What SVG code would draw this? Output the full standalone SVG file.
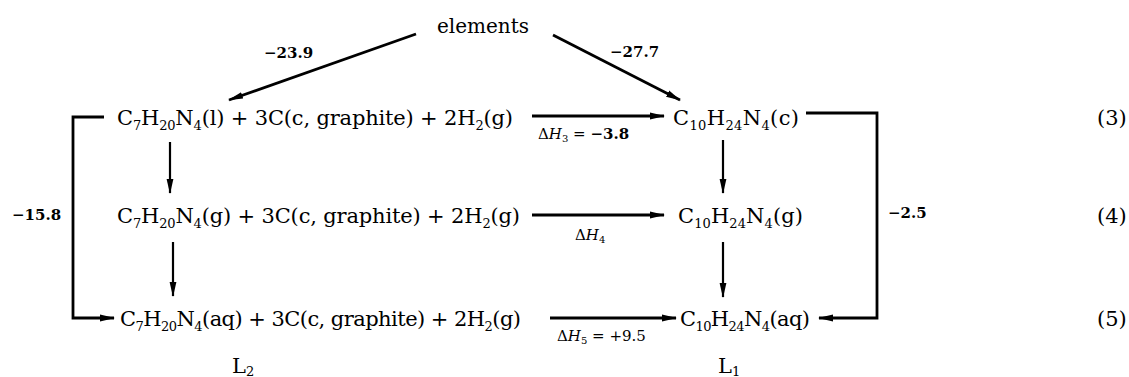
<svg xmlns="http://www.w3.org/2000/svg" width="1129" height="377" viewBox="0 0 1129 377">
<style>
text{font-family:"DejaVu Serif","Liberation Serif",serif;fill:#000}
.f{font-size:21px}
.e{font-size:20px}
.n{font-size:15px;font-weight:bold}
.d{font-size:15px}
.s{font-size:13px}
.ln{stroke:#000;stroke-width:2.8;fill:none}
.dn{stroke:#000;stroke-width:2.2;fill:none}
</style>
<defs>
<marker id="ah" markerUnits="userSpaceOnUse" markerWidth="15" markerHeight="8" refX="14" refY="4" orient="auto">
<path d="M0,0.6 L15,4 L0,7.4 z" fill="#000"/>
</marker>
</defs>
<rect width="1129" height="377" fill="#fff"/>

<g id="connectors">
<line class="ln" x1="416" y1="34" x2="229" y2="100" marker-end="url(#ah)"/>
<line class="ln" x1="553" y1="35" x2="680" y2="100" marker-end="url(#ah)"/>
<line class="ln" x1="532" y1="116" x2="664" y2="116" marker-end="url(#ah)"/>
<line class="ln" x1="532" y1="215" x2="664" y2="215" marker-end="url(#ah)"/>
<line class="ln" x1="550" y1="318" x2="676" y2="318" marker-end="url(#ah)"/>
<line class="dn" x1="170" y1="142" x2="170" y2="193" marker-end="url(#ah)"/>
<line class="dn" x1="173" y1="242" x2="173" y2="296" marker-end="url(#ah)"/>
<line class="dn" x1="723" y1="140" x2="723" y2="193" marker-end="url(#ah)"/>
<line class="dn" x1="723" y1="242" x2="723" y2="297" marker-end="url(#ah)"/>
<polyline class="ln" points="104,117 73,117 73,318 114,318" marker-end="url(#ah)"/>
<polyline class="ln" points="806,113 877,113 877,318 819,318" marker-end="url(#ah)"/>
</g>

<g id="elements"><text class="e" x="437" y="33">elements</text></g>
<g id="lbl-239"><text class="n" x="264" y="58">−23.9</text></g>
<g id="lbl-277"><text class="n" x="610" y="57">−27.7</text></g>
<g id="lbl-158"><text class="n" x="12" y="220">−15.8</text></g>
<g id="lbl-25"><text class="n" x="888" y="218">−2.5</text></g>

<g id="row1-left"><text class="f" x="117" y="125" textLength="396" lengthAdjust="spacing">C<tspan class="s" dy="5">7</tspan><tspan dy="-5">H</tspan><tspan class="s" dy="5">20</tspan><tspan dy="-5">N</tspan><tspan class="s" dy="5">4</tspan><tspan dy="-5">(l) + 3C(c, graphite) + 2H</tspan><tspan class="s" dy="5">2</tspan><tspan dy="-5">(g)</tspan></text></g>
<g id="row2-left"><text class="f" x="117" y="223" textLength="403" lengthAdjust="spacing">C<tspan class="s" dy="5">7</tspan><tspan dy="-5">H</tspan><tspan class="s" dy="5">20</tspan><tspan dy="-5">N</tspan><tspan class="s" dy="5">4</tspan><tspan dy="-5">(g) + 3C(c, graphite) + 2H</tspan><tspan class="s" dy="5">2</tspan><tspan dy="-5">(g)</tspan></text></g>
<g id="row3-left"><text class="f" x="120" y="326" textLength="401" lengthAdjust="spacing">C<tspan class="s" dy="5">7</tspan><tspan dy="-5">H</tspan><tspan class="s" dy="5">20</tspan><tspan dy="-5">N</tspan><tspan class="s" dy="5">4</tspan><tspan dy="-5">(aq) + 3C(c, graphite) + 2H</tspan><tspan class="s" dy="5">2</tspan><tspan dy="-5">(g)</tspan></text></g>

<g id="row1-right"><text class="f" x="673" y="125" textLength="126" lengthAdjust="spacing">C<tspan class="s" dy="5">10</tspan><tspan dy="-5">H</tspan><tspan class="s" dy="5">24</tspan><tspan dy="-5">N</tspan><tspan class="s" dy="5">4</tspan><tspan dy="-5">(c)</tspan></text></g>
<g id="row2-right"><text class="f" x="678" y="223" textLength="125" lengthAdjust="spacing">C<tspan class="s" dy="5">10</tspan><tspan dy="-5">H</tspan><tspan class="s" dy="5">24</tspan><tspan dy="-5">N</tspan><tspan class="s" dy="5">4</tspan><tspan dy="-5">(g)</tspan></text></g>
<g id="row3-right"><text class="f" x="680" y="326" textLength="130" lengthAdjust="spacing">C<tspan class="s" dy="5">10</tspan><tspan dy="-5">H</tspan><tspan class="s" dy="5">24</tspan><tspan dy="-5">N</tspan><tspan class="s" dy="5">4</tspan><tspan dy="-5">(aq)</tspan></text></g>

<g id="dh3"><text class="d" x="538" y="139">Δ<tspan font-style="italic">H</tspan><tspan font-size="10" dy="3">3</tspan><tspan dy="-3"> = </tspan><tspan font-weight="bold">−3.8</tspan></text></g>
<g id="dh4"><text class="d" x="575" y="240">Δ<tspan font-style="italic">H</tspan><tspan font-size="10" dy="3">4</tspan></text></g>
<g id="dh5"><text class="d" x="557" y="341">Δ<tspan font-style="italic">H</tspan><tspan font-size="10" dy="3">5</tspan><tspan dy="-3"> = +9.5</tspan></text></g>

<g id="L2"><text class="f" x="232" y="373">L<tspan class="s" dy="3">2</tspan></text></g>
<g id="L1"><text class="f" x="718" y="373">L<tspan class="s" dy="3">1</tspan></text></g>

<g id="eq3"><text class="f" x="1097" y="125">(3)</text></g>
<g id="eq4"><text class="f" x="1097" y="223">(4)</text></g>
<g id="eq5"><text class="f" x="1097" y="326">(5)</text></g>
</svg>
